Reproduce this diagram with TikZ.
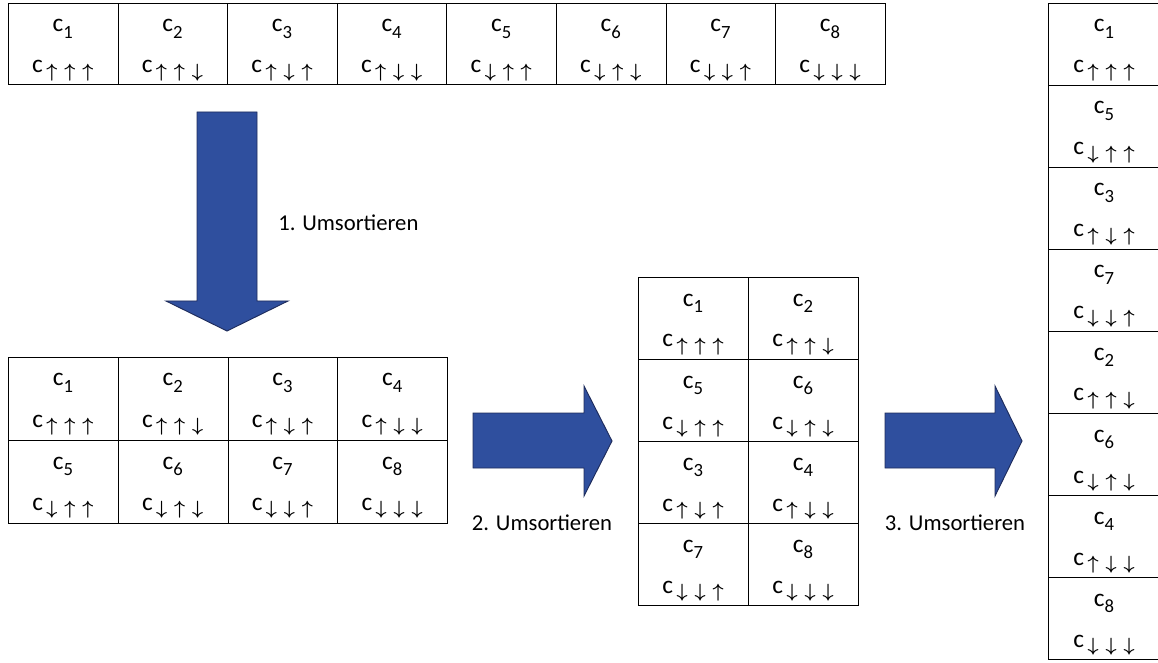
\RequirePackage{fix-cm}
\documentclass[tikz,border=0pt]{standalone}
\usepackage{fontspec}
\setmainfont{Carlito}
\definecolor{arrowblue}{RGB}{47,79,158}
\definecolor{arrowline}{RGB}{30,44,92}
\newcommand\sbx[1]{\raisebox{-5pt}{\fontsize{14pt}{15pt}\selectfont #1}}
\newcommand\aU{\hspace{2.6pt}\raisebox{-3.5pt}{\fontsize{14.4pt}{15pt}\selectfont\boldmath$\uparrow$}\hspace{2.6pt}}
\newcommand\aD{\hspace{2.6pt}\raisebox{-3.5pt}{\fontsize{14.4pt}{15pt}\selectfont\boldmath$\downarrow$}\hspace{2.6pt}}
\newcommand\arrs[1]{\ifcase#1\or\aU\aU\aU\or\aU\aU\aD\or\aU\aD\aU\or\aU\aD\aD\or\aD\aU\aU\or\aD\aU\aD\or\aD\aD\aU\or\aD\aD\aD\fi}
\tikzset{
  cellrect/.style={draw=black, line width=0.8pt, rectangle, inner sep=0pt},
  celltxt/.style={anchor=base, inner sep=0pt, font=\fontsize{19pt}{21pt}\selectfont},
  steplabel/.style={inner sep=0pt, font=\fontsize{17pt}{19pt}\selectfont},
  blockarrow/.style={fill=arrowblue, draw=arrowline, line width=0.7pt, line join=miter}
}
% #1 name, #2 x, #3 y, #4 w, #5 h, #6 index
\newcommand\cellbox[6]{%
  \pgfmathsetmacro\cxl{#2}%
  \pgfmathsetmacro\cyt{#3}%
  \pgfmathsetmacro\cxm{#2+#4/2}%
  \pgfmathsetmacro\cyA{#3+29}%
  \pgfmathsetmacro\cyB{#3+70}%
  \node[cellrect, minimum width=#4*0.75pt, minimum height=#5*0.75pt, anchor=north west] (#1) at (\cxl,\cyt) {};
  \node[celltxt] (#1-t) at (\cxm,\cyA) {c\sbx{#6}};
  \node[celltxt] (#1-b) at (\cxm,\cyB) {c\arrs{#6}};
}
\begin{document}
\begin{tikzpicture}[x=0.75pt, y=-0.75pt]
\useasboundingbox (0,0) rectangle (1158,663);
% top row
\foreach \i in {1,...,8} {
  \pgfmathsetmacro\xx{8+(\i-1)*109.6}
  \cellbox{top\i}{\xx}{3}{109.6}{81}{\i}
}
% grid 2 (2 x 4)
\foreach \i [count=\k from 0] in {1,...,8} {
  \pgfmathsetmacro\xx{8+mod(\k,4)*109.75}
  \pgfmathsetmacro\yy{357+floor(\k/4)*83}
  \cellbox{g\i}{\xx}{\yy}{109.75}{83}{\i}
}
% grid 3 (4 x 2)
\foreach \i [count=\k from 0] in {1,2,5,6,3,4,7,8} {
  \pgfmathsetmacro\xx{638+mod(\k,2)*110}
  \pgfmathsetmacro\yy{277+floor(\k/2)*82}
  \cellbox{h\i}{\xx}{\yy}{110}{82}{\i}
}
% right column
\foreach \i [count=\k from 0] in {1,5,3,7,2,6,4,8} {
  \pgfmathsetmacro\yy{3+\k*82}
  \cellbox{r\i}{1048}{\yy}{112}{82}{\i}
}
% block arrows
\draw[blockarrow] (197,112) -- (257,112) -- (257,301) -- (288,301) -- (227,331) -- (166,301) -- (197,301) -- cycle;
\draw[blockarrow] (473,413) -- (584,413) -- (584,386) -- (612,441) -- (584,496) -- (584,468) -- (473,468) -- cycle;
\draw[blockarrow] (885,413) -- (995,413) -- (995,386) -- (1022,441) -- (995,496) -- (995,468) -- (885,468) -- cycle;
% labels
\node[steplabel, anchor=west] (l1) at (278,223) {1. Umsortieren};
\node[steplabel] (l2) at (542,523) {2. Umsortieren};
\node[steplabel] (l3) at (955,523) {3. Umsortieren};
\end{tikzpicture}
\end{document}
